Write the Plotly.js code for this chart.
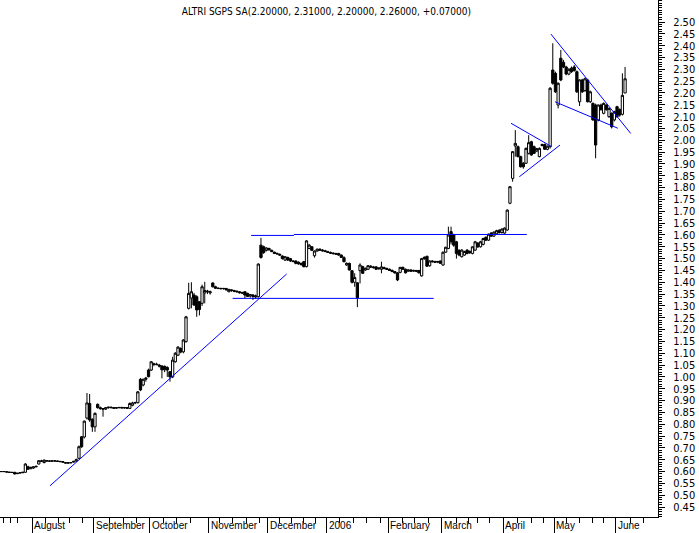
<!DOCTYPE html>
<html>
<head>
<meta charset="utf-8">
<script src="https://cdn.plot.ly/plotly-3.0.1.min.js"></script>
<style>html,body{margin:0;padding:0;background:#fff;}#chart{width:699px;height:533px;}</style>
</head>
<body>
<div id="chart"></div>
<script>
// ---- Data: daily OHLC, trading-day index 0 = mid July 2005 ----
const openP = [
.600,.600,.599,.597,.597,.597,.591,.594,.595,.597,
.620,.612,.615,.620,.632,.645,.638,.646,.645,.644,
.645,.645,.643,.642,.638,.636,.637,.640,.645,.656,
.747,.746,.826,.888,.821,.789,.884,.870,.866,.864,
.870,.872,.870,.868,.870,.871,.869,.870,.867,.880,
.890,.891,.990,.966,.990,1.029,1.029,1.055,1.054,1.050,
1.046,1.045,1.040,1.022,1.000,1.064,1.092,1.120,1.106,1.149,
1.290,1.333,1.346,1.339,1.318,1.311,1.355,1.360,1.355,1.397,
1.381,1.375,1.374,1.373,1.374,1.360,1.368,1.365,1.362,1.360,
1.356,1.360,1.353,1.342,1.340,1.338,1.339,1.557,1.550,1.535,
1.543,1.535,1.527,1.522,1.518,1.511,1.494,1.505,1.500,1.490,
1.490,1.485,1.480,1.487,1.466,1.543,1.550,1.512,1.532,1.540,
1.536,1.533,1.529,1.526,1.523,1.521,1.522,1.515,1.504,1.473,
1.480,1.449,1.400,1.398,1.449,1.466,1.452,1.455,1.468,1.465,
1.465,1.457,1.455,1.462,1.458,1.455,1.450,1.445,1.440,1.442,
1.463,1.455,1.447,1.452,1.447,1.450,1.450,1.427,1.505,1.510,
1.470,1.490,1.487,1.485,1.490,1.473,1.527,1.543,1.614,1.600,
1.571,1.535,1.508,1.515,1.536,1.530,1.522,1.536,1.565,1.550,
1.560,1.590,1.578,1.608,1.595,1.605,1.620,1.610,1.608,1.621,
1.734,1.839,1.976,1.973,1.931,1.903,1.903,1.945,1.994,1.973,
1.955,1.931,1.978,1.982,1.962,1.973,2.297,2.283,2.149,2.347,
2.330,2.310,2.280,2.305,2.310,2.290,2.163,2.255,2.210,2.255,
2.163,2.156,2.149,2.086,2.149,2.114,2.149,2.100,2.114,2.086,
2.142,2.130,2.110,2.200];
const highP = [
.601,.601,.600,.598,.598,.597,.594,.596,.598,.635,
.625,.620,.622,.625,.648,.650,.652,.648,.647,.646,
.647,.646,.645,.644,.640,.639,.640,.645,.655,.710,
.750,.816,.932,.928,.825,.850,.888,.875,.868,.872,
.874,.875,.873,.872,.873,.874,.872,.873,.892,.895,
.895,.940,.995,.993,1.000,1.035,1.067,1.060,1.060,1.055,
1.050,1.048,1.045,1.025,1.085,1.105,1.130,1.125,1.160,1.258,
1.398,1.400,1.355,1.345,1.320,1.390,1.402,1.368,1.365,1.400,
1.385,1.378,1.377,1.376,1.376,1.372,1.370,1.368,1.366,1.363,
1.360,1.362,1.356,1.350,1.350,1.348,1.480,1.588,1.555,1.548,
1.546,1.538,1.530,1.526,1.522,1.514,1.510,1.508,1.503,1.494,
1.492,1.488,1.483,1.490,1.578,1.562,1.553,1.535,1.542,1.543,
1.540,1.537,1.533,1.530,1.527,1.525,1.524,1.518,1.510,1.484,
1.483,1.452,1.438,1.400,1.480,1.470,1.462,1.473,1.472,1.469,
1.468,1.463,1.487,1.466,1.462,1.458,1.454,1.448,1.443,1.465,
1.466,1.458,1.455,1.455,1.453,1.452,1.452,1.503,1.510,1.512,
1.493,1.493,1.491,1.490,1.492,1.530,1.550,1.635,1.635,1.605,
1.575,1.540,1.540,1.533,1.540,1.535,1.552,1.575,1.570,1.575,
1.588,1.594,1.606,1.612,1.615,1.622,1.624,1.628,1.632,1.708,
1.806,1.955,2.043,1.978,1.935,1.908,1.970,2.022,1.998,1.978,
1.968,1.970,1.986,1.986,1.978,2.225,2.410,2.290,2.245,2.382,
2.340,2.315,2.305,2.312,2.318,2.295,2.258,2.260,2.265,2.260,
2.210,2.160,2.155,2.152,2.155,2.160,2.152,2.138,2.118,2.125,
2.146,2.135,2.283,2.310];
const lowP = [
.599,.599,.597,.596,.595,.588,.590,.593,.594,.595,
.608,.610,.612,.618,.630,.640,.635,.642,.643,.642,
.643,.642,.640,.638,.634,.633,.635,.638,.640,.652,
.700,.740,.820,.810,.768,.768,.866,.862,.832,.860,
.866,.868,.866,.865,.867,.867,.866,.866,.865,.876,
.885,.888,.940,.960,.980,.998,1.025,1.045,1.050,1.040,
.994,1.020,1.000,.980,.995,1.060,1.088,1.100,1.100,1.145,
1.285,1.290,1.300,1.254,1.260,1.300,1.311,1.350,1.348,1.378,
1.372,1.371,1.370,1.369,1.365,1.358,1.360,1.358,1.356,1.352,
1.350,1.332,1.338,1.335,1.325,1.330,1.335,1.500,1.520,1.530,
1.534,1.527,1.520,1.517,1.512,1.496,1.490,1.490,1.486,1.484,
1.476,1.474,1.470,1.463,1.463,1.540,1.532,1.504,1.530,1.533,
1.530,1.527,1.524,1.520,1.518,1.516,1.512,1.503,1.484,1.470,
1.450,1.395,1.381,1.295,1.395,1.435,1.448,1.452,1.460,1.458,
1.452,1.453,1.438,1.455,1.452,1.448,1.443,1.436,1.405,1.438,
1.452,1.437,1.444,1.444,1.444,1.443,1.437,1.424,1.495,1.465,
1.466,1.484,1.482,1.481,1.478,1.470,1.525,1.540,1.560,1.550,
1.500,1.510,1.505,1.512,1.518,1.520,1.518,1.533,1.545,1.547,
1.556,1.574,1.575,1.592,1.592,1.602,1.606,1.606,1.605,1.618,
1.730,1.825,1.931,1.928,1.885,1.880,1.900,1.940,1.935,1.942,
1.950,1.928,1.974,1.960,1.958,1.965,2.235,2.200,2.135,2.250,
2.305,2.275,2.275,2.285,2.290,2.200,2.145,2.200,2.205,2.160,
2.158,2.083,1.924,2.080,2.125,2.110,2.125,2.095,2.050,2.080,
2.095,2.100,2.105,2.200];
const closeP = [
.600,.600,.598,.597,.596,.590,.593,.595,.597,.632,
.610,.618,.620,.622,.646,.644,.648,.645,.644,.645,
.645,.643,.642,.640,.636,.637,.638,.643,.650,.705,
.705,.813,.890,.818,.789,.846,.870,.866,.864,.870,
.872,.870,.868,.870,.871,.869,.870,.868,.888,.890,
.892,.937,.945,.990,.995,1.001,1.064,1.054,1.052,1.046,
1.030,1.030,1.029,1.000,1.071,1.100,1.126,1.105,1.156,1.254,
1.353,1.360,1.304,1.283,1.285,1.381,1.365,1.362,1.360,1.381,
1.375,1.374,1.373,1.374,1.368,1.370,1.365,1.362,1.360,1.356,
1.355,1.346,1.340,1.348,1.346,1.342,1.477,1.505,1.526,1.545,
1.537,1.530,1.522,1.520,1.515,1.500,1.508,1.494,1.490,1.488,
1.480,1.478,1.475,1.466,1.575,1.557,1.535,1.532,1.540,1.536,
1.533,1.530,1.526,1.523,1.521,1.519,1.515,1.505,1.487,1.480,
1.452,1.400,1.420,1.335,1.473,1.438,1.459,1.470,1.465,1.462,
1.455,1.460,1.465,1.458,1.455,1.450,1.445,1.440,1.410,1.463,
1.455,1.440,1.452,1.447,1.450,1.447,1.440,1.500,1.500,1.468,
1.490,1.487,1.485,1.488,1.480,1.527,1.548,1.600,1.571,1.557,
1.522,1.515,1.536,1.530,1.522,1.525,1.550,1.571,1.550,1.571,
1.585,1.578,1.603,1.595,1.612,1.618,1.610,1.625,1.629,1.705,
1.804,1.952,1.987,1.931,1.888,1.888,1.966,1.990,1.938,1.945,
1.965,1.966,1.982,1.962,1.975,2.220,2.241,2.205,2.241,2.255,
2.310,2.280,2.300,2.290,2.295,2.205,2.255,2.205,2.260,2.163,
2.205,2.086,1.980,2.149,2.130,2.156,2.130,2.135,2.057,2.121,
2.100,2.107,2.190,2.260];

// month starts (trading-day index) and their labels
const monthStart = [12, 35, 56, 78, 100, 122, 145, 165, 188, 207, 230];
const monthLabel = ['August','September','October','November','December','2006','February','March','April','May','June'];
// weekly minor ticks (trading-day index)
const weekTicks = [1,3.5,6,16.5,21.5,25.5,30.5,40.5,45.5,50.5,60.5,65.5,70.5,81.5,86.5,91.5,96.5,104,108.5,113,117.5,126.5,131.5,136.5,141.5,150,154.5,159.5,170,174.5,178,182.5,193,198,202.5,211,216,221,225,235,240];
// y-axis tick values
const yTicks = [0.45,0.50,0.55,0.60,0.65,0.70,0.75,0.80,0.85,0.90,0.95,1.00,1.05,1.10,1.15,1.20,1.25,1.30,1.35,1.40,1.45,1.50,1.55,1.60,1.65,1.70,1.75,1.80,1.85,1.90,1.95,2.00,2.05,2.10,2.15,2.20,2.25,2.30,2.35,2.40,2.45,2.50];
// trend lines (index, price)
const trendX0 = [18.2, 86.4, 93.3, 109.3, 190.4, 193.5, 205.3, 206.8];
const trendY0 = [0.540, 1.332, 1.598, 1.602, 2.072, 1.846, 2.449, 2.163];
const trendX1 = [106.6, 161.5, 109.3, 196.3, 205.6, 208.7, 235.1, 230.3];
const trendY1 = [1.435, 1.332, 1.598, 1.602, 1.973, 1.980, 2.029, 2.051];

const titleText = 'ALTRI SGPS SA(2.20000, 2.31000, 2.20000, 2.26000, +0.07000)';

const dayIdx = openP.map((_, i) => i);
const narrow = '"Liberation Sans Narrow", "DejaVu Sans Condensed", "Arial Narrow", Arial, sans-serif';
const sans = '"Liberation Sans", Arial, sans-serif';

const trace = {
  type: 'candlestick',
  x: dayIdx, open: openP, high: highP, low: lowP, close: closeP,
  increasing: {line: {color: '#000', width: 1}, fillcolor: '#fff'},
  decreasing: {line: {color: '#000', width: 1}, fillcolor: '#000'},
  whiskerwidth: 0,
  hoverinfo: 'skip',
  showlegend: false
};

const shapes = trendX0.map((x0, k) => ({
  type: 'line', xref: 'x', yref: 'y',
  x0: x0, y0: trendY0[k], x1: trendX1[k], y1: trendY1[k],
  line: {color: '#0000ff', width: 1}
}));

const annotations = monthStart.map((m, k) => ({
  xref: 'x', yref: 'paper', x: m - 0.5, y: 0,
  xanchor: 'left', yanchor: 'top', xshift: 1, yshift: -2,
  text: monthLabel[k], showarrow: false, borderpad: 0,
  font: {family: sans, size: 10, color: '#000'}
}));

const layout = {
  width: 699, height: 533,
  margin: {l: 0, r: 41, t: 0, b: 16, pad: 0},
  paper_bgcolor: '#fff', plot_bgcolor: '#fff',
  showlegend: false,
  boxgap: 0, boxgroupgap: 0.15,
  title: {text: titleText, font: {family: narrow, size: 10, color: '#000'},
          xref: 'container', x: 0.467, xanchor: 'center',
          yref: 'container', y: 1 - 11/533, yanchor: 'middle'},
  xaxis: {
    range: [-0.486, 245.3], fixedrange: true,
    rangeslider: {visible: false},
    showgrid: false, zeroline: false,
    showline: true, linecolor: '#000', linewidth: 1,
    tickmode: 'array', tickvals: monthStart.map(m => m - 0.5), ticktext: monthStart.map(() => ''),
    ticks: 'outside', ticklen: 15, tickwidth: 1, tickcolor: '#000',
    minor: {tickmode: 'array', tickvals: weekTicks, ticks: 'outside', ticklen: 5, tickwidth: 1, tickcolor: '#000', showgrid: false}
  },
  yaxis: {
    side: 'right', range: [0.408, 2.593], fixedrange: true,
    showgrid: false, zeroline: false,
    showline: true, linecolor: '#000', linewidth: 1,
    tickmode: 'array', tickvals: yTicks, ticktext: yTicks.map(v => v.toFixed(2)),
    ticks: 'outside', ticklen: 6, tickwidth: 1, tickcolor: '#000',
    ticklabelstandoff: 6,
    tickfont: {family: narrow, size: 11, color: '#000'},
    minor: {dtick: 0.01, tick0: 0, ticks: 'outside', ticklen: 3, tickwidth: 1, tickcolor: '#000', showgrid: false}
  },
  shapes: shapes,
  annotations: annotations
};

Plotly.newPlot('chart', [trace], layout, {displayModeBar: false, staticPlot: true});
</script>
</body>
</html>
